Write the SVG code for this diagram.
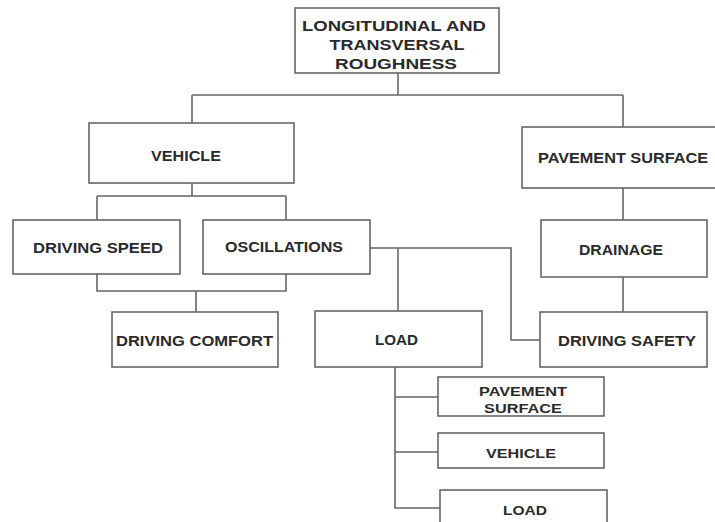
<svg xmlns="http://www.w3.org/2000/svg" width="715" height="522" viewBox="0 0 715 522">
<style>
.box{fill:#fff;stroke:#666;stroke-width:1.6}
.c{fill:none;stroke:#666;stroke-width:1.6}
text{font-family:"Liberation Sans",Arial,sans-serif;font-weight:bold;fill:#2a2a2a;text-anchor:middle}
.m{font-size:15.5px}
.s{font-size:13.5px}
</style>
<rect width="715" height="522" fill="#fff"/>
<g id="connectors">
<path class="c" d="M398,73 V95 M192,95 H623 M192,95 V123 M623,95 V127"/>
<path class="c" d="M192,183 V196 M97,196 H286 M97,196 V220 M286,196 V220"/>
<path class="c" d="M97,274 V291 H286 V274 M196,291 V312"/>
<path class="c" d="M370,248 H511 V340 H540 M398,248 V311"/>
<path class="c" d="M623,188 V220 M623,277 V312"/>
<path class="c" d="M395,367 V508 H440 M395,397 H438 M395,452 H438"/>
</g>
<g id="n-root"><rect class="box" x="295" y="8" width="204" height="65"/>
<text class="m" x="394" y="31" textLength="184" lengthAdjust="spacingAndGlyphs">LONGITUDINAL AND</text>
<text class="m" x="397" y="50" textLength="135" lengthAdjust="spacingAndGlyphs">TRANSVERSAL</text>
<text class="m" x="396" y="69" textLength="122" lengthAdjust="spacingAndGlyphs">ROUGHNESS</text></g>
<g id="n-vehicle"><rect class="box" x="89" y="123" width="205" height="60"/>
<text class="m" x="186" y="161" textLength="70" lengthAdjust="spacingAndGlyphs">VEHICLE</text></g>
<g id="n-pavement"><rect class="box" x="522" y="127" width="202" height="61"/>
<text class="m" x="623" y="163" textLength="170" lengthAdjust="spacingAndGlyphs">PAVEMENT SURFACE</text></g>
<g id="n-speed"><rect class="box" x="13" y="220" width="167" height="54"/>
<text class="m" x="98" y="253" textLength="130" lengthAdjust="spacingAndGlyphs">DRIVING SPEED</text></g>
<g id="n-osc"><rect class="box" x="203" y="220" width="167" height="54"/>
<text class="m" x="284" y="252" textLength="118" lengthAdjust="spacingAndGlyphs">OSCILLATIONS</text></g>
<g id="n-drainage"><rect class="box" x="541" y="220" width="166" height="57"/>
<text class="m" x="621" y="255" textLength="84" lengthAdjust="spacingAndGlyphs">DRAINAGE</text></g>
<g id="n-comfort"><rect class="box" x="112" y="312" width="166" height="55"/>
<text class="m" x="194.5" y="346" textLength="157" lengthAdjust="spacingAndGlyphs">DRIVING COMFORT</text></g>
<g id="n-load"><rect class="box" x="315" y="311" width="167" height="56"/>
<text class="m" x="396.5" y="345" textLength="43" lengthAdjust="spacingAndGlyphs">LOAD</text></g>
<g id="n-safety"><rect class="box" x="540" y="312" width="167" height="55"/>
<text class="m" x="627" y="346" textLength="138" lengthAdjust="spacingAndGlyphs">DRIVING SAFETY</text></g>
<g id="n-pav2"><rect class="box" x="438" y="377" width="166" height="39"/>
<text class="s" x="523" y="396" textLength="88" lengthAdjust="spacingAndGlyphs">PAVEMENT</text>
<text class="s" x="523" y="413" textLength="78" lengthAdjust="spacingAndGlyphs">SURFACE</text></g>
<g id="n-veh2"><rect class="box" x="438" y="433" width="166" height="35"/>
<text class="s" x="521" y="458" textLength="70" lengthAdjust="spacingAndGlyphs">VEHICLE</text></g>
<g id="n-load2"><rect class="box" x="440" y="490" width="167" height="40"/>
<text class="s" x="525" y="515" textLength="44" lengthAdjust="spacingAndGlyphs">LOAD</text></g>
</svg>
